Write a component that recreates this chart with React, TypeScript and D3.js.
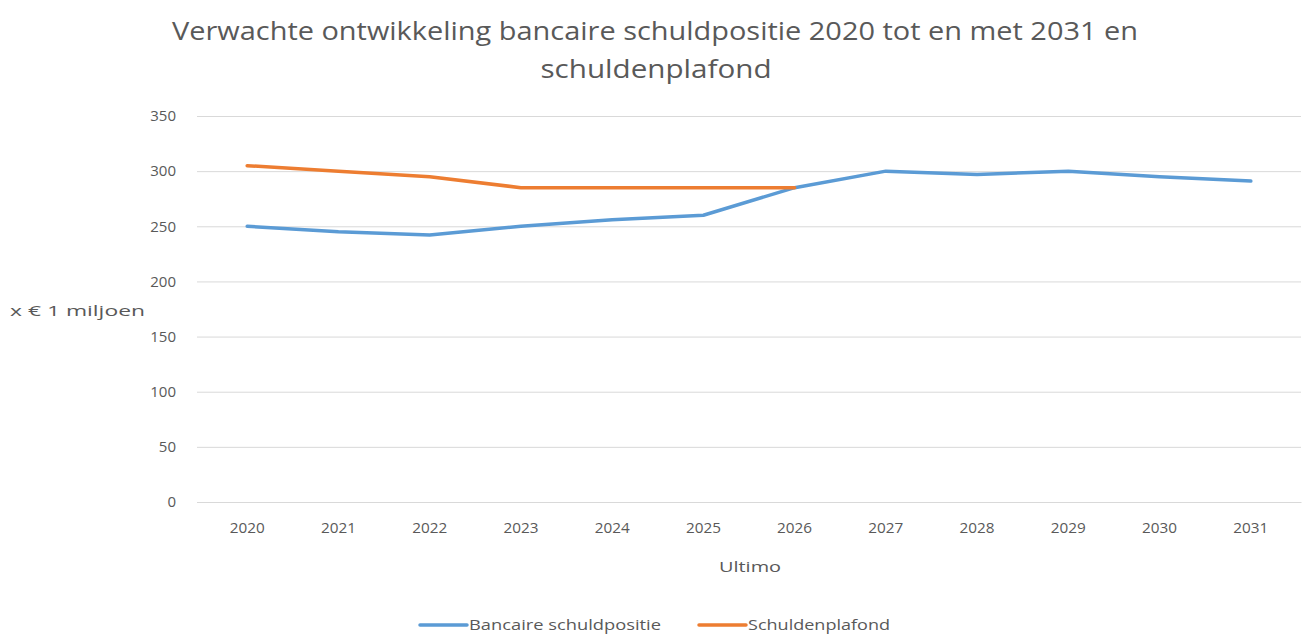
import { useRef, useEffect } from 'react';
import * as d3 from 'd3';

const YEARS = ['2020', '2021', '2022', '2023', '2024', '2025', '2026', '2027', '2028', '2029', '2030', '2031'];
const SCHULDPOSITIE = [250, 245, 242, 250, 256, 260, 285, 300, 297, 300, 295, 291];
const PLAFOND: (number | null)[] = [305, 300, 295, 285, 285, 285, 285, null, null, null, null, null];
const Y_TICKS = [0, 50, 100, 150, 200, 250, 300, 350];

const TITLE_1 = 'Verwachte ontwikkeling bancaire schuldpositie 2020 tot en met 2031 en';
const TITLE_2 = 'schuldenplafond';

const BLUE = '#5b9bd5';
const ORANGE = '#ed7d31';
const TEXT = '#595959';
const GRID = '#d9d9d9';
const FONT = '"Open Sans", "Noto Sans", sans-serif';

const W = 1305;
const H = 637;

export default function App() {
  const svgRef = useRef<SVGSVGElement>(null);

  useEffect(() => {
    document.body.style.margin = '0';
    const svg = d3.select(svgRef.current);
    svg.selectAll('*').remove();

    const margin = { top: 116, right: 4, bottom: 135, left: 197 };
    const width = W - margin.left - margin.right;
    const height = H - margin.top - margin.bottom;

    const x = d3.scaleBand().domain(YEARS).range([0, width]).paddingInner(0).paddingOuter(0.05);
    const y = d3.scaleLinear().domain([0, 350]).range([height, 0]);
    const cx = (d: string) => x(d)! + x.bandwidth() / 2;

    // title
    svg.append('text')
      .attr('x', 655).attr('y', 40)
      .attr('text-anchor', 'middle')
      .attr('font-family', FONT).attr('font-size', 26).attr('fill', TEXT)
      .attr('textLength', 966).attr('lengthAdjust', 'spacingAndGlyphs')
      .text(TITLE_1);
    svg.append('text')
      .attr('x', 656).attr('y', 78)
      .attr('text-anchor', 'middle')
      .attr('font-family', FONT).attr('font-size', 26).attr('fill', TEXT)
      .attr('textLength', 231).attr('lengthAdjust', 'spacingAndGlyphs')
      .text(TITLE_2);

    const g = svg.append('g').attr('transform', `translate(${margin.left},${margin.top})`);

    // grid lines
    g.append('g')
      .call(d3.axisLeft(y).tickValues(Y_TICKS).tickSize(-width).tickFormat(() => ''))
      .call(sel => sel.select('.domain').remove())
      .call(sel => sel.selectAll('line').attr('stroke', GRID).attr('stroke-width', 1));

    // y labels
    g.append('g')
      .attr('font-size', 15)
      .call(d3.axisLeft(y).tickValues(Y_TICKS).tickSize(0).tickPadding(21))
      .call(sel => sel.select('.domain').remove())
      .call(sel => sel.selectAll('text')
        .attr('fill', TEXT).attr('font-family', FONT).attr('font-size', 15)
        .attr('textLength', function () { return (this as SVGTextElement).textContent!.length * 8.6; })
        .attr('lengthAdjust', 'spacingAndGlyphs'));

    // x labels
    g.append('g')
      .attr('transform', `translate(0,${height})`)
      .call(d3.axisBottom(x).tickSize(0).tickPadding(20))
      .call(sel => sel.select('.domain').attr('stroke', GRID))
      .call(sel => sel.selectAll('text')
        .attr('fill', TEXT).attr('font-family', FONT).attr('font-size', 15)
        .attr('textLength', 35).attr('lengthAdjust', 'spacingAndGlyphs'));

    // axis titles
    svg.append('text')
      .attr('x', 750).attr('y', 572)
      .attr('text-anchor', 'middle')
      .attr('font-family', FONT).attr('font-size', 15).attr('fill', TEXT)
      .attr('textLength', 62).attr('lengthAdjust', 'spacingAndGlyphs')
      .text('Ultimo');
    svg.append('text')
      .attr('x', 10).attr('y', 316)
      .attr('font-family', FONT).attr('font-size', 15).attr('fill', TEXT)
      .attr('textLength', 135).attr('lengthAdjust', 'spacingAndGlyphs')
      .text('x € 1 miljoen');

    // lines
    const blueLine = d3.line<number>()
      .x((_, i) => cx(YEARS[i]))
      .y(d => y(d));
    g.append('path')
      .datum(SCHULDPOSITIE)
      .attr('d', blueLine)
      .attr('fill', 'none').attr('stroke', BLUE).attr('stroke-width', 3.5)
      .attr('stroke-linejoin', 'round').attr('stroke-linecap', 'round');

    const orangeLine = d3.line<number | null>()
      .defined(d => d != null)
      .x((_, i) => cx(YEARS[i]))
      .y(d => y(d as number));
    g.append('path')
      .datum(PLAFOND)
      .attr('d', orangeLine)
      .attr('fill', 'none').attr('stroke', ORANGE).attr('stroke-width', 3.5)
      .attr('stroke-linejoin', 'round').attr('stroke-linecap', 'round');

    // legend
    const items = [
      { label: 'Bancaire schuldpositie', color: BLUE, x: 420, len: 192 },
      { label: 'Schuldenplafond', color: ORANGE, x: 699, len: 142 },
    ];
    for (const it of items) {
      const lg = svg.append('g').attr('transform', `translate(${it.x},625)`);
      lg.append('line')
        .attr('x1', 0).attr('x2', 47).attr('y1', 0).attr('y2', 0)
        .attr('stroke', it.color).attr('stroke-width', 3.5).attr('stroke-linecap', 'round');
      lg.append('text')
        .attr('x', 49).attr('y', 5)
        .attr('font-family', FONT).attr('font-size', 15).attr('fill', TEXT)
        .attr('textLength', it.len).attr('lengthAdjust', 'spacingAndGlyphs')
        .text(it.label);
    }
  }, []);

  return <svg ref={svgRef} width={W} height={H} style={{ display: 'block', background: '#fff' }} />;
}
